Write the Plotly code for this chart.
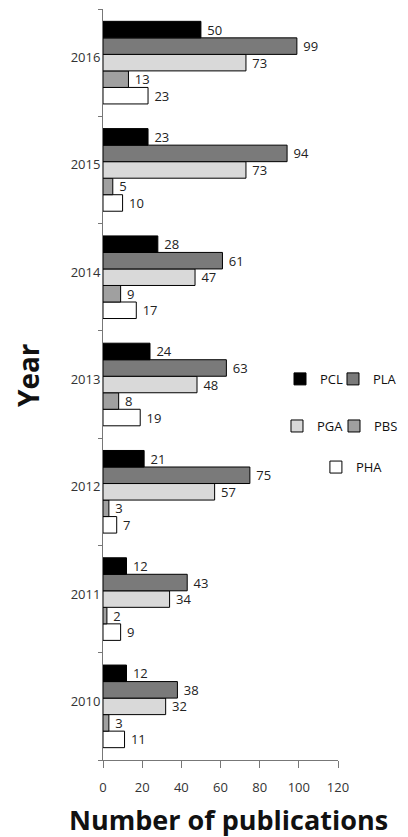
import plotly.graph_objects as go

years = ["2010", "2011", "2012", "2013", "2014", "2015", "2016"]
PCL = [12, 12, 21, 24, 28, 23, 50]
PLA = [38, 43, 75, 63, 61, 94, 99]
PGA = [32, 34, 57, 48, 47, 73, 73]
PBS = [3, 2, 3, 8, 9, 5, 13]
PHA = [11, 9, 7, 19, 17, 10, 23]
x_ticks = [0, 20, 40, 60, 80, 100, 120]

series = [
    ("PHA", PHA, "#ffffff", "legend5"),
    ("PBS", PBS, "#a0a0a0", "legend4"),
    ("PGA", PGA, "#d9d9d9", "legend3"),
    ("PLA", PLA, "#7a7a7a", "legend2"),
    ("PCL", PCL, "#000000", "legend"),
]

FONT = "Open Sans"
fig = go.Figure()
for name, vals, color, leg in series:
    fig.add_trace(go.Bar(
        name=name, y=years, x=vals, orientation="h",
        marker=dict(color=color, line=dict(color="#000000", width=1)),
        text=[str(v) for v in vals], texttemplate="\u00a0%{text}",
        textposition="outside",
        textfont=dict(family=FONT, size=13, color="#222222"),
        constraintext="none", cliponaxis=False, legend=leg,
    ))

def leg(x, y):
    return dict(
        x=x, y=y, xref="paper", yref="paper",
        xanchor="left", yanchor="middle", orientation="h",
        font=dict(family=FONT, size=13, color="#111111"),
        bgcolor="rgba(0,0,0,0)", itemwidth=30,
        itemclick=False, itemdoubleclick=False,
    )

fig.update_layout(
    width=408, height=837,
    margin=dict(l=95, r=78, t=1, b=85),
    plot_bgcolor="white", paper_bgcolor="white",
    barmode="group", bargap=0.23, bargroupgap=0,
    showlegend=True,
    legend=leg(0.7532, 0.5074),
    legend2=leg(0.9787, 0.5074),
    legend3=leg(0.7404, 0.4447),
    legend4=leg(0.983, 0.4447),
    legend5=leg(0.906, 0.390),
    xaxis=dict(
        range=[0, 120], tickvals=x_ticks, showgrid=False, zeroline=False,
        showline=True, linecolor="#777777", linewidth=1,
        ticks="outside", ticklen=7, tickcolor="#777777",
        tickfont=dict(family=FONT, size=13, color="#333333"),
        ticklabelstandoff=8, automargin=False,
    ),
    yaxis=dict(
        type="category", categoryorder="array", categoryarray=years,
        showgrid=False, showline=True, linecolor="#777777", linewidth=1,
        ticks="outside", ticklen=4, tickcolor="#777777", tickson="boundaries",
        tickfont=dict(family=FONT, size=13, color="#333333"),
        ticklabelstandoff=-1, ticklabelshift=-5, automargin=False,
    ),
    annotations=[
        dict(text="<b>Year</b>", textangle=-90, xref="paper", yref="paper",
             x=-0.319, y=0.5126, xanchor="center", yanchor="middle",
             showarrow=False, font=dict(family=FONT, size=28, color="#111111")),
        dict(text="<b>Number of publications</b>", xref="paper", yref="paper",
             x=0.532, y=-0.0787, xanchor="center", yanchor="middle",
             showarrow=False, font=dict(family=FONT, size=27, color="#111111")),
    ],
)

fig.write_html("out.html")
